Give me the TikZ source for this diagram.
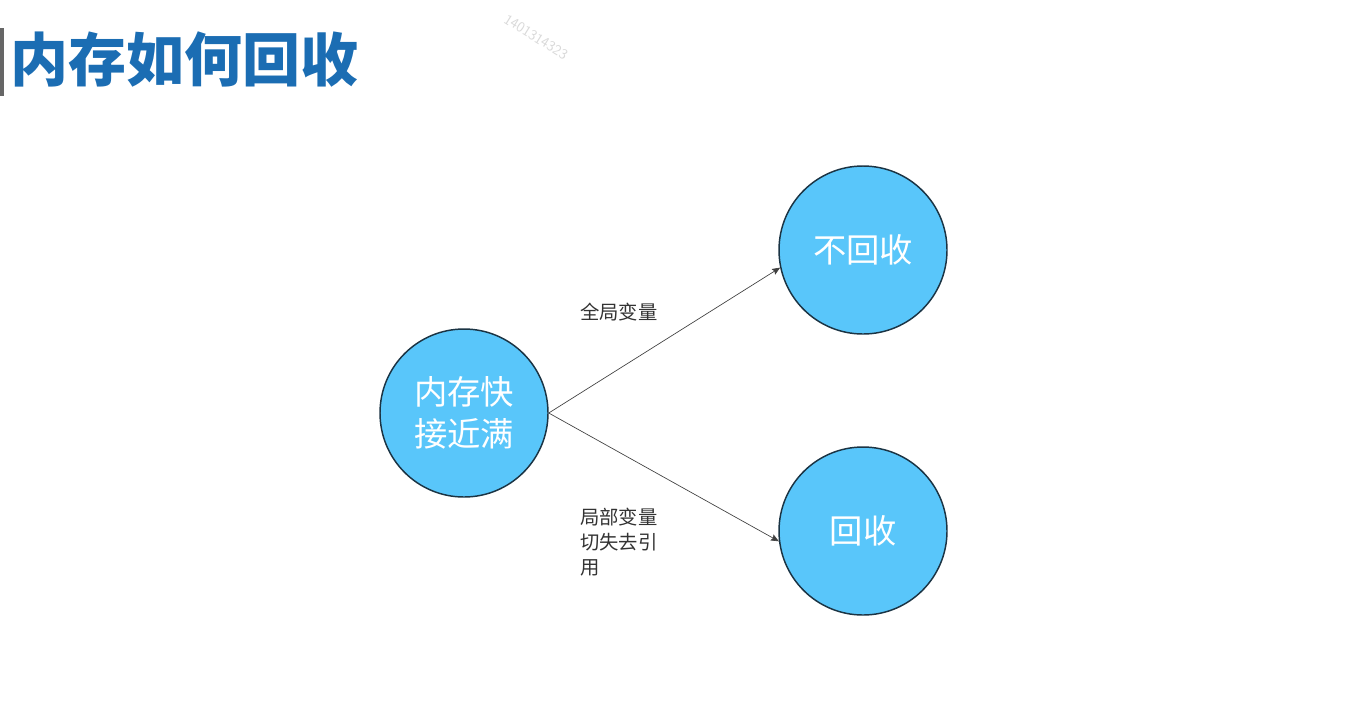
\documentclass[tikz,border=0pt]{standalone}
\usepackage{fontspec}
\newfontfamily\cjk{Noto Sans CJK SC}
\usetikzlibrary{arrows.meta}
\definecolor{circfill}{HTML}{59C6FA}
\definecolor{circline}{HTML}{1B3444}
\definecolor{titleblue}{HTML}{1B6DB3}
\begin{document}
\begin{tikzpicture}[x=0.75pt,y=-0.75pt,
  bubble/.style={circle,draw=circline,line width=1.1pt,fill=circfill,minimum size=126pt,inner sep=0pt,text=white,font=\cjk\fontsize{25}{31}\selectfont,align=center},
  edgelabel/.style={text=black!80,font=\cjk\fontsize{14.5}{18.75}\selectfont,align=left,inner sep=0pt},
  conn/.style={draw=black!75,line width=0.5pt,-{Stealth[length=6pt,width=5pt,inset=1pt]}}]
\useasboundingbox (0,0) rectangle (1348,719);
\fill[white] (0,0) rectangle (1348,719);
% title
\draw[line width=2.4pt,draw=black!60] (2,28) -- (2,96);
\node[anchor=west,inner sep=0pt,text=titleblue,font=\cjk\bfseries\fontsize{43.5}{43.5}\selectfont] (title) at (10,60) {内存如何回收};
% watermark
\node[rotate=-32,text=black!15,font=\sffamily\fontsize{11}{11}\selectfont,inner sep=0pt] (wm) at (536,37) {1401314323};
% circles
\node[bubble] (full) at (464,413) {内存快\\接近满};
\node[bubble] (keep) at (863,250) {不回收};
\node[bubble] (free) at (863,531) {回收};
% connectors
\draw[conn] (full.east) -- (keep.192);
\draw[conn] (full.east) -- (free.187);
% labels
\node[edgelabel,anchor=west] (glabel) at (580,312) {全局变量};
\node[edgelabel,anchor=north west] (llabel) at (580,508) {局部变量\\切失去引\\用};
\end{tikzpicture}
\end{document}
